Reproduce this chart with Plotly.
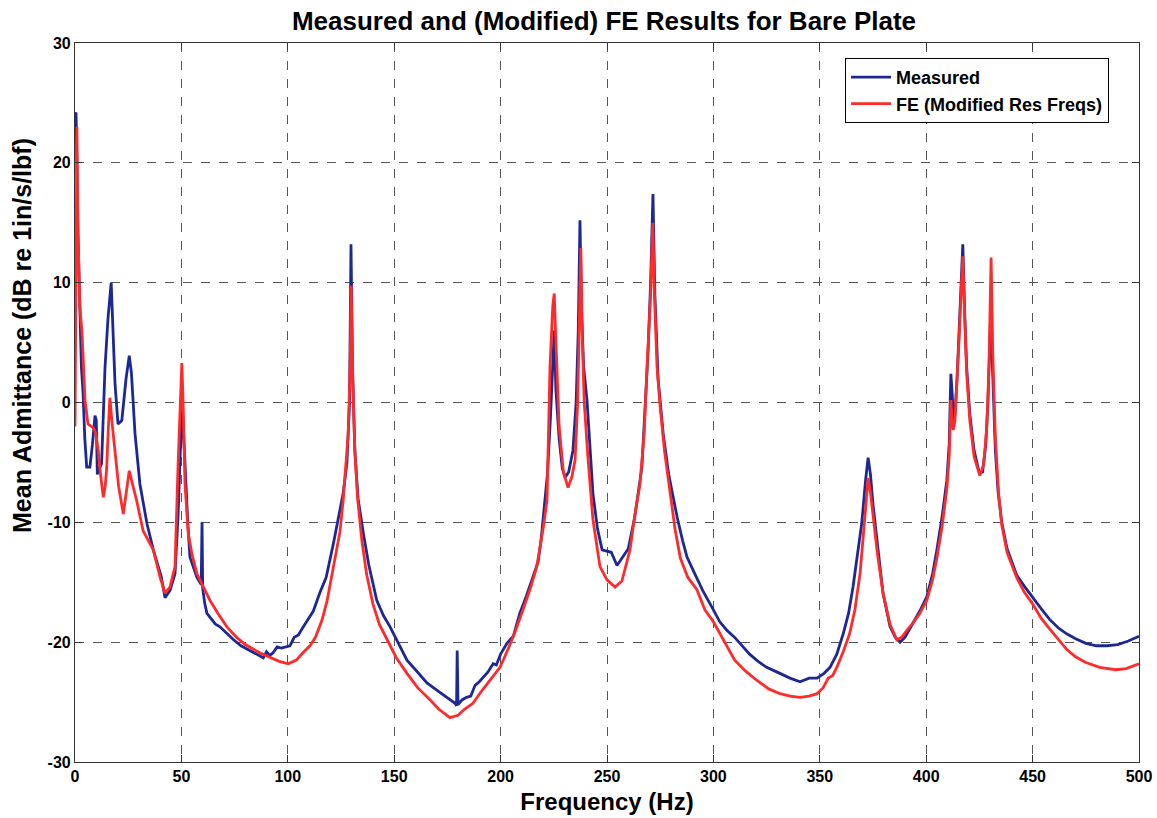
import plotly.graph_objects as go

# ---- Measured (blue) ----
meas_freq = [0, 0.5, 1.4, 2.3, 3.0, 3.8, 4.6, 5.5, 7.0, 8.2, 9.4, 10.0, 10.5, 11.2, 12.5, 14.1, 15.5, 17, 17.8, 18.8,
             20.2, 22, 24, 25.5, 26.5, 28.2, 30.5, 33.8, 36.8, 39, 40.5, 42.3, 44.6, 47, 48.4, 49.5, 50.5, 51.0, 51.7, 53,
             54, 57.3, 59.3, 59.7, 60.0, 61, 62, 66, 68, 71.3, 74.5, 78, 82.2, 86, 88.5, 90, 91.5, 93, 95, 97,
             99.5, 101, 103, 105, 107, 109, 112, 115, 118, 121.4, 124, 126, 127.8, 129, 129.7, 130.4, 131.5, 133, 135.5, 138,
             141.8, 145, 148, 152, 156, 160, 165.4, 170, 174.7, 177, 178.6, 179.3, 179.6, 180, 182, 184, 186, 188, 190, 192,
             194, 196.5, 198, 200, 203, 206, 209, 212, 214, 216, 217.6, 219, 220, 222, 223.5, 224.5, 225.2, 226, 227.5, 229,
             230.3, 232, 234, 235.5, 236.5, 237.3, 238, 239, 240.6, 243.4, 245.5, 247.7, 250, 252, 254.7, 257, 260, 263, 266.4, 269.3,
             270.5, 271.6, 272.5, 274, 276.4, 279, 283, 285.5, 287.6, 291, 295, 300, 303, 306.3, 310, 312.5, 317, 321, 325, 330,
             336, 340.7, 345, 348.7, 352, 354.8, 358, 361, 363.5, 365.6, 368, 369.7, 371.5, 372.7, 373.8, 375, 376.9, 379.7, 383, 385.5,
             387.7, 390, 393.8, 397, 400.3, 403, 405, 407.5, 409.7, 410.8, 411.6, 412.3, 412.8, 413.5, 414.5, 415.5, 416.5, 417.2, 418, 419,
             420.5, 422.5, 425, 426.5, 428, 429, 430.3, 431.3, 432.5, 433.8, 435.5, 438, 442.5, 446, 450, 454, 458, 462, 466, 470,
             475, 480, 485, 490, 495, 500]
meas_db = [24, 24.2, 14, 7.1, 3, 0.75, -3, -5.4, -5.4, -3.5, -1.1, -1.5, -6, -5.6, -5.1, 2.9, 7, 10, 6, 1.6,
           -1.8, -1.5, 2, 3.9, 2.5, -2.6, -6.8, -10.1, -12.3, -13.7, -14.5, -16.3, -15.7, -14.3, -9.6, -4, -0.7, -2.5, -5.4, -10,
           -12.9, -14.6, -15.2, -10.0, -15.5, -16.8, -17.6, -18.5, -18.7, -19.3, -19.8, -20.3, -20.7, -21.0, -21.3, -20.8, -21.1, -20.9, -20.4, -20.5,
           -20.4, -20.3, -19.6, -19.4, -18.8, -18.2, -17.4, -15.9, -14.6, -11.8, -9.5, -7.6, -5, 0, 13.2, 3, -4, -8, -10.9, -13.5,
           -16.5, -17.8, -18.7, -20.1, -21.5, -22.3, -23.4, -24.0, -24.6, -24.9, -25.1, -25.3, -20.7, -25.2, -24.8, -24.6, -24.5, -23.6, -23.3, -22.9,
           -22.5, -21.8, -21.9, -21.0, -20.1, -19.5, -17.6, -16.2, -15.1, -14.2, -13.3, -11.5, -9.8, -6, -1, 3, 6.0, 1, -3, -5.5,
           -6.25, -5.8, -4, 0, 6, 15.2, 8, 3, 0.2, -7.6, -10.5, -12.3, -12.4, -12.5, -13.6, -13, -12.2, -9.6, -5.4, 4.3,
           10, 17.4, 9, 2, -2.6, -6, -9.6, -11.5, -12.9, -14.2, -15.7, -17.3, -18.3, -19, -19.6, -20.1, -21.0, -21.6, -22.1, -22.5,
           -23, -23.3, -23.0, -23, -22.6, -22.1, -21.0, -19.3, -17.6, -15.4, -12.5, -10.1, -6.5, -4.6, -6, -8.5, -11.5, -15.9, -18.7, -19.6,
           -20, -19.6, -18.4, -17.4, -16.2, -14.3, -12.3, -9.5, -6.5, -3.5, 2.4, 0.5, -2, -1, 2, 6, 10, 13.2, 8, 3,
           -1, -4, -5.9, -5.8, -3.5, 0, 7.3, 2, -4, -7.5, -10, -12.2, -14.4, -15.3, -16.3, -17.2, -18.1, -18.8, -19.3, -19.7,
           -20.1, -20.3, -20.3, -20.2, -19.9, -19.5]

# ---- FE (Modified Res Freqs) (red) ----
fe_freq = [0, 0.3, 0.9, 1.4, 2.3, 3.3, 4.7, 6.1, 8.5, 9.7, 10.9, 12, 13.3, 14.2, 14.9, 15.7, 16.4, 17.3, 18.8, 20.5,
           22.7, 24.2, 25.5, 27, 29, 32, 34.5, 36.8, 40, 42.3, 44.6, 47, 48.4, 49.5, 50.2, 50.8, 51.7, 53.2, 55, 57.3,
           60.3, 63.4, 67.2, 71.3, 76, 80, 87, 92, 96, 100.2, 104, 107, 110.4, 113, 116, 118.4, 121, 123, 124.5, 126,
           127.3, 128.4, 129.3, 129.8, 130.5, 131.5, 132.8, 134.8, 137, 140, 143, 146.6, 151, 156, 161, 166.8, 171, 176.2, 180, 183,
           187, 191, 195, 199.7, 203, 206.5, 210.5, 214, 217, 219, 220, 221.8, 223.2, 224.5, 225.2, 226, 227.5, 229.5, 231.7, 233.5,
           235, 236.2, 237.0, 237.7, 238.3, 239.3, 241, 243.4, 246.7, 250, 253.8, 257, 260.8, 263, 265.5, 267.5, 268.8, 270.5, 271.5, 272.3,
           273.5, 275, 277, 279.6, 282, 284.5, 288, 292.2, 296, 300, 304.5, 310, 315, 320.5, 326, 331.3, 336, 340.7, 345, 348.7,
           351.6, 354, 356, 358, 361, 364, 366.5, 368.9, 370.5, 371.8, 372.7, 373.8, 375, 377, 379.7, 383, 386.2, 388.5, 391, 393.8,
           397, 400.3, 403, 405, 407.5, 409.7, 410.8, 411.6, 412.1, 412.7, 413.5, 414.5, 415.5, 416.5, 417.2, 418, 419, 420.5, 422.5, 425.2,
           427, 428.5, 429.5, 430.5, 431.3, 432.5, 434, 435.5, 438, 442.5, 446, 450, 454, 458, 462, 466, 470, 475, 481.6, 489,
           494, 500]
fe_db = [-2, 5, 23, 14, 8, 5.8, 0.2, -1.8, -2.1, -2.5, -4, -6, -7.9, -7, -5.4, -2, 0.4, -1.5, -4, -7,
         -9.3, -7.5, -5.7, -6.8, -8.2, -10.7, -11.6, -12.3, -14.6, -15.9, -15.4, -13.7, -5.4, 1, 3.3, 0, -6.8, -10.9, -12.7, -14.3,
         -15.4, -16.5, -17.6, -18.7, -19.6, -20.2, -20.9, -21.3, -21.6, -21.8, -21.5, -20.9, -20.3, -19.6, -18.2, -16.6, -14.2, -12.3, -10.8, -8.2,
         -5.5, -2.6, 3, 9.75, 2, -4, -8, -11.5, -14.3, -16.8, -18.5, -19.8, -21.3, -22.6, -23.8, -24.8, -25.6, -26.3, -26.1, -25.6,
         -25.1, -24.1, -23.2, -22.1, -20.8, -19.3, -17.3, -15.5, -13.7, -11.7, -10.5, -8.2, 2.9, 8, 9.1, 5, -2, -5.8, -7.1, -6.2,
         -4.8, 0, 6, 12.9, 6, 0, -4.5, -9.8, -13.7, -14.8, -15.4, -14.9, -12.3, -9.5, -6.8, -2.5, 2.9, 9, 15, 9,
         3, -0.4, -4, -7.3, -10.6, -13, -14.6, -15.6, -17.3, -18.3, -19.8, -21.5, -22.4, -23.2, -23.9, -24.3, -24.5, -24.6, -24.5, -24.3,
         -23.8, -23.0, -22.8, -22.1, -20.8, -19.3, -17.3, -14.3, -11, -8, -6.3, -7.5, -9.5, -12.5, -15.9, -18.5, -19.8, -19.6, -19.0, -18.4,
         -17.6, -16.5, -14.8, -13, -10.3, -7.2, -4.5, 0.2, -1.5, -2.3, -1.5, 1.5, 5.5, 9.5, 12.2, 7.5, 2.5, -1.5, -4.5, -6.1,
         -5.2, -2, 3, 12.1, 4, -3, -7.5, -10.2, -12.5, -14.6, -15.8, -16.8, -18, -18.9, -19.8, -20.6, -21.2, -21.7, -22.1, -22.3,
         -22.2, -21.8]

x_ticks = [0, 50, 100, 150, 200, 250, 300, 350, 400, 450, 500]
y_ticks = [-30, -20, -10, 0, 10, 20, 30]

FONT = "Liberation Sans, Arial, Helvetica, sans-serif"

fig = go.Figure()
fig.add_trace(go.Scatter(x=meas_freq, y=meas_db, mode="lines", name="Measured",
                         line=dict(color="#1c2894", width=2.8)))
fig.add_trace(go.Scatter(x=fe_freq, y=fe_db, mode="lines", name="FE (Modified Res Freqs)",
                         line=dict(color="#ff2a2a", width=2.8)))

axis_common = dict(
    showline=True, linecolor="#333333", linewidth=1.2, mirror="ticks",
    ticks="inside", ticklen=7, tickcolor="#333333",
    showgrid=True, gridcolor="#555555", gridwidth=1, griddash="dash",
    zeroline=False,
    tickfont=dict(family=FONT, size=16, color="black", weight="bold"),
)

fig.update_xaxes(range=[0, 500], tickvals=x_ticks, ticktext=[str(v) for v in x_ticks],
                 title=dict(text="Frequency (Hz)", font=dict(family=FONT, size=24, color="black", weight="bold"),
                            standoff=8),
                 automargin=False, **axis_common)
fig.update_yaxes(range=[-30, 30], tickvals=y_ticks, ticktext=[str(v) for v in y_ticks],
                 automargin=False, **axis_common)

fig.add_annotation(text="Mean Admittance (dB re 1in/s/lbf)", textangle=-90,
                   xref="paper", yref="paper", x=(22 - 75) / 1064, y=(762 - 336) / 719,
                   showarrow=False, xanchor="center", yanchor="middle",
                   font=dict(family=FONT, size=25, color="black", weight="bold"))

fig.update_layout(
    width=1157, height=818,
    margin=dict(l=75, r=18, t=43, b=56),
    paper_bgcolor="white", plot_bgcolor="white",
    title=dict(text="Measured and (Modified) FE Results for Bare Plate",
               x=(604 - 75) / 1064, xref="paper", xanchor="center",
               y=1 - 21 / 818, yref="container", yanchor="middle",
               font=dict(family=FONT, size=26, color="black", weight="bold")),
    legend=dict(x=(1109 - 75) / 1064, y=(762 - 58) / 719, xanchor="right", yanchor="top",
                bgcolor="white", bordercolor="black", borderwidth=1,
                font=dict(family=FONT, size=18, color="black", weight="bold"),
                tracegroupgap=0, itemwidth=40),
    showlegend=True,
)

fig.write_html("out.html")
